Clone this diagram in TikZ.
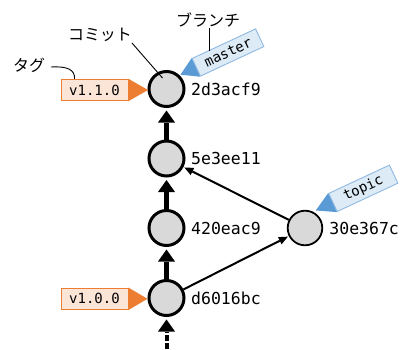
\documentclass[tikz,border=0pt]{standalone}
\usepackage{fontspec}
\setmonofont{DejaVu Sans Mono}
\newfontfamily\jpfont{Noto Sans CJK JP}
\usetikzlibrary{arrows.meta,calc}

\definecolor{commitgray}{HTML}{D9D9D9}
\definecolor{tagline}{HTML}{ED7D31}
\definecolor{tagfill}{HTML}{FBE5D6}
\definecolor{branchline}{HTML}{8FB8E2}
\definecolor{branchfill}{HTML}{DDEBF7}
\definecolor{branchtip}{HTML}{5B9BD5}

\tikzset{
  commit/.style={circle, draw=black, fill=commitgray, line width=3pt,
    minimum size=35pt, inner sep=0pt},
  sidecommit/.style={commit, line width=1.8pt, minimum size=34.6pt},
  hash/.style={anchor=west, inner sep=0pt, font=\ttfamily\fontsize{16.5}{18}\selectfont},
  tagbox/.style={draw=tagline, fill=tagfill, line width=0.9pt, minimum width=67pt,
    minimum height=21.5pt, inner sep=0pt, font=\ttfamily\fontsize{14}{16}\selectfont},
  branchbox/.style={draw=branchline, fill=branchfill, line width=0.9pt,
    minimum height=19.5pt, inner sep=0pt, rotate=25,
    font=\ttfamily\fontsize{14}{16}\selectfont},
  callout/.style={inner sep=0pt, font=\jpfont\fontsize{16}{18}\selectfont},
  leader/.style={draw=black, line width=0.9pt},
  parent/.style={line width=5pt,
    -{Triangle[length=12pt,width=17pt,line width=0pt]}, shorten >=2.5pt},
  merge/.style={line width=2pt,
    -{Triangle[length=9pt,width=8pt,line width=0pt]}, shorten >=1pt},
}

\begin{document}
\begin{tikzpicture}[x=1pt,y=-1pt]
  \useasboundingbox (0,0) rectangle (400,349);

  % commits on the main line and the topic commit
  \node[commit] (c1) at (166.5,89) {};
  \node[commit] (c2) at (166.5,158.5) {};
  \node[commit] (c3) at (166.5,228) {};
  \node[commit] (c4) at (166.5,298) {};
  \node[sidecommit] (c5) at (305,228) {};

  % commit hashes
  \node[hash] (h1) at ($(c1.east)+(5.5,0)$) {2d3acf9};
  \node[hash] (h2) at ($(c2.east)+(5.5,0)$) {5e3ee11};
  \node[hash] (h3) at ($(c3.east)+(5.5,0)$) {420eac9};
  \node[hash] (h4) at ($(c4.east)+(5.5,0)$) {d6016bc};
  \node[hash] (h5) at ($(c5.east)+(6,0)$) {30e367c};

  % parent links
  \draw[parent] (c2) -- (c1);
  \draw[parent] (c3) -- (c2);
  \draw[parent] (c4) -- (c3);
  \coordinate (tail) at (166.5,349);
  \draw[parent, line width=4pt, dash pattern=on 6pt off 2.5pt] (tail) -- (c4);
  \draw[merge] (c4) -- (c5);
  \draw[merge] (c5) -- (c2);

  % tags
  \node[tagbox] (t1) at (94.5,90) {v1.1.0};
  \fill[tagline] (t1.north east) -- ($(t1.east)+(19.5,0)$) -- (t1.south east) -- cycle;
  \node[tagbox] (t2) at (94.5,298.8) {v1.0.0};
  \fill[tagline] (t2.north east) -- ($(t2.east)+(19,0)$) -- (t2.south east) -- cycle;

  % branches
  \node[branchbox, minimum width=70pt] (b1) at (228,52.5) {master};
  \fill[branchtip] (b1.north west) -- ($(b1.west)!17pt!90:(b1.north west)$)
    -- (b1.south west) -- cycle;
  \node[branchbox, minimum width=67pt, minimum height=20pt] (b2) at (363.3,188.3) {topic};
  \fill[branchtip] (b2.north west) -- ($(b2.west)!18.5pt!90:(b2.north west)$)
    -- (b2.south west) -- cycle;

  % callouts
  \node[callout] (lbtag) at (29,65) {タグ};
  \node[callout] (lbcommit) at (100,35) {コミット};
  \node[callout] (lbbranch) at (208,20) {ブランチ};
  \coordinate (tagend) at (51,67);
  \coordinate (commitend) at (132,43);
  \coordinate (branchend) at (209.5,28);
  \draw[leader] (tagend) .. controls (68,66) and (75,70) .. ($(t1.north west)+(14,0)$);
  \draw[leader] (commitend) -- ($(c1.center)+(-4,-11)$);
  \draw[leader] (branchend) -- ($(branchend)+(0,23)$);
\end{tikzpicture}
\end{document}
